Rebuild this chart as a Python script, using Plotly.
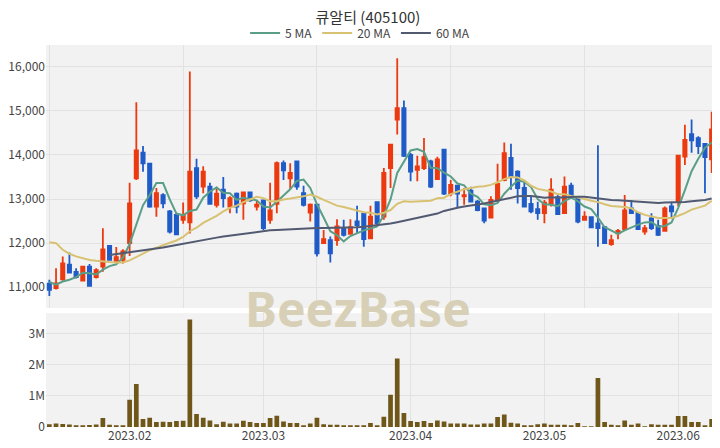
import pandas as pd
import plotly.graph_objects as go

# ---- data -------------------------------------------------------------
holidays = ["2023-01-23", "2023-01-24", "2023-03-01", "2023-05-01",
            "2023-05-05", "2023-05-29", "2023-06-06"]
dates = [d.strftime("%Y-%m-%d") for d in pd.bdate_range("2023-01-12", "2023-06-09")
         if d.strftime("%Y-%m-%d") not in holidays]

open_ = [11080, 10980, 11180, 11510, 11350, 11150, 11470, 11230, 11470, 11940,
         11600, 11620, 12000, 13470, 14050, 13800, 12830, 13090, 12720, 12640,
         12530, 12470, 13700, 13280, 13280, 12870, 13210, 12830, 13120, 12900,
         13150, 12830, 12970, 12530, 12890, 13810, 13470, 13850, 13130, 12690,
         12870, 12000, 12070, 12070, 12340, 12210, 12490, 12660, 12110, 12930,
         12600, 13700, 14800, 15060, 14000, 13660, 13700, 13850, 13450, 14120,
         13120, 13300, 13060, 13190, 12940, 12790, 12580, 12980, 13430, 13930,
         13620, 13250, 12890, 12770, 12680, 12900, 13040, 12680, 13300, 13000,
         12530, 12590, 12450, 12360, 11980, 12220, 12320, 12790, 12680, 12260,
         12560, 12390, 12280, 12830, 12940, 13960, 14470, 14380, 14250, 13900]
high = [11170, 11430, 11700, 11790, 11430, 11480, 11530, 11430, 12340, 11960,
        11910, 11860, 13370, 15190, 14200, 13820, 13250, 13130, 12750, 12680,
        12920, 15890, 13910, 13740, 13370, 13280, 13500, 13060, 13150, 13170,
        13170, 12980, 12980, 13370, 13850, 13870, 13810, 13850, 13300, 12900,
        12890, 12300, 12150, 12540, 12530, 12540, 12850, 12680, 12850, 12950,
        13700, 14250, 16190, 15230, 14040, 13980, 14380, 13890, 13960, 14120,
        13430, 13300, 13250, 13280, 12980, 12810, 13060, 13800, 14280, 14250,
        13650, 13400, 13060, 12940, 12980, 13470, 13120, 13510, 13370, 13020,
        12720, 12600, 14220, 12390, 12190, 12320, 13090, 12980, 12690, 12410,
        12680, 12530, 12830, 12940, 14000, 14680, 14800, 14420, 14270, 14980]
low = [10800, 10950, 11150, 11320, 11200, 11130, 11010, 11200, 11350, 11600,
       11560, 11540, 11710, 13430, 13620, 12800, 12600, 12790, 12220, 12180,
       12440, 12220, 13000, 13130, 12870, 12810, 12810, 12680, 12680, 12530,
       12940, 12740, 12300, 12440, 12680, 13430, 13210, 13210, 12830, 12490,
       11700, 11980, 11560, 11940, 12150, 12190, 12230, 11920, 12090, 12410,
       12530, 13250, 14460, 13950, 13400, 13400, 13660, 13250, 13430, 13090,
       13060, 12790, 12870, 12920, 12720, 12450, 12570, 12940, 13400, 13210,
       12900, 12810, 12680, 12530, 12450, 12830, 12640, 12660, 13020, 12450,
       12510, 12340, 11920, 11980, 11940, 12090, 12300, 12660, 12300, 12190,
       12300, 12160, 12260, 12560, 12830, 13770, 14050, 14020, 13130, 13590]
close = [10940, 11090, 11540, 11330, 11230, 11470, 11030, 11390, 11860, 11620,
         11680, 11810, 12900, 14100, 13810, 12830, 13130, 12900, 12260, 12200,
         12640, 13620, 13060, 13620, 12890, 13120, 13020, 13020, 12830, 13150,
         12970, 12870, 12340, 12740, 13810, 13650, 13590, 13280, 12870, 12870,
         11770, 12090, 11770, 12380, 12190, 12360, 12410, 12090, 12600, 12450,
         13590, 14230, 15060, 13980, 13620, 13740, 13950, 13280, 13900, 13120,
         13320, 13120, 13090, 12940, 12750, 12510, 12980, 13340, 14040, 13510,
         13250, 12830, 12720, 12680, 12920, 13210, 12660, 13280, 13090, 12490,
         12600, 12360, 12340, 12000, 12070, 12280, 12740, 12680, 12320, 12340,
         12340, 12190, 12790, 12720, 13980, 14340, 14330, 14200, 13950, 14580]
volume = [0.09, 0.11, 0.10, 0.08, 0.05, 0.05, 0.06, 0.08, 0.29, 0.07,
          0.05, 0.05, 0.87, 1.38, 0.26, 0.30, 0.16, 0.17, 0.16, 0.19,
          0.20, 3.45, 0.42, 0.30, 0.21, 0.09, 0.17, 0.11, 0.11, 0.20,
          0.16, 0.13, 0.13, 0.29, 0.36, 0.18, 0.13, 0.13, 0.04, 0.11,
          0.30, 0.09, 0.07, 0.07, 0.03, 0.03, 0.05, 0.05, 0.13, 0.05,
          0.33, 1.03, 2.20, 0.45, 0.19, 0.16, 0.19, 0.13, 0.21, 0.18,
          0.11, 0.11, 0.11, 0.08, 0.08, 0.11, 0.11, 0.32, 0.40, 0.14,
          0.11, 0.03, 0.03, 0.09, 0.11, 0.07, 0.07, 0.07, 0.03, 0.13,
          0.02, 0.02, 1.57, 0.16, 0.07, 0.04, 0.21, 0.07, 0.11, 0.02,
          0.09, 0.07, 0.07, 0.07, 0.35, 0.35, 0.16, 0.16, 0.04, 0.26]
volume = [v * 1_000_000 for v in volume]

ma5 = [11120, 11060, 11130, 11170, 11230, 11330, 11320, 11290, 11400, 11480,
       11520, 11670, 11980, 12420, 12860, 13090, 13360, 13360, 12990, 12670,
       12630, 12730, 12760, 13030, 13170, 13260, 13140, 13130, 12980, 13030,
       13000, 12970, 12830, 12810, 12940, 13080, 13220, 13410, 13440, 13250,
       12880, 12580, 12270, 12180, 12040, 12160, 12220, 12290, 12330, 12380,
       12630, 12990, 13590, 13860, 14100, 14130, 14070, 13710, 13700, 13600,
       13510, 13350, 13310, 13120, 13050, 12880, 12860, 12910, 13120, 13280,
       13420, 13390, 13270, 13000, 12880, 12870, 12840, 12950, 13030, 12950,
       12830, 12770, 12580, 12360, 12280, 12210, 12290, 12360, 12420, 12470,
       12480, 12370, 12390, 12470, 12800, 13200, 13630, 13910, 14160, 14280]
ma20 = [12020, 12000, 11850, 11760, 11700, 11660, 11620, 11600, 11580, 11570,
        11560, 11560, 11610, 11680, 11760, 11840, 11900, 11960, 12010, 12060,
        12140, 12270, 12350, 12460, 12540, 12620, 12720, 12800, 12850, 12930,
        12990, 13050, 13020, 12950, 12950, 12990, 13010, 13030, 13060, 13100,
        13050, 12980, 12910, 12850, 12820, 12780, 12750, 12700, 12690, 12650,
        12690, 12750, 12890, 12950, 12940, 12950, 12960, 12960, 13020, 13030,
        13110, 13160, 13220, 13250, 13280, 13290, 13320, 13380, 13450, 13500,
        13490, 13420, 13300, 13230, 13200, 13170, 13110, 13110, 13070, 13040,
        13000, 12960, 12930, 12880, 12840, 12830, 12820, 12790, 12700, 12640,
        12600, 12570, 12570, 12570, 12620, 12680, 12760, 12810, 12850, 12960]
ma60 = [None, None, None, None, None, None, None, None, None, 11730,
        11750, 11770, 11790, 11810, 11830, 11850, 11870, 11900, 11930, 11960,
        11985, 12010, 12040, 12070, 12100, 12125, 12150, 12170, 12195, 12220,
        12245, 12265, 12285, 12290, 12300, 12310, 12320, 12330, 12340, 12345,
        12345, 12345, 12345, 12350, 12350, 12355, 12360, 12370, 12385, 12400,
        12420, 12445, 12475, 12505, 12535, 12565, 12600, 12635, 12670, 12730,
        12770, 12800, 12830, 12850, 12880, 12900, 12930, 12960, 13000, 13030,
        13060, 13070, 13070, 13050, 13030, 13040, 13030, 13040, 13050, 13050,
        13050, 13030, 13020, 12990, 12980, 12970, 12960, 12960, 12950, 12930,
        12920, 12910, 12920, 12920, 12920, 12930, 12950, 12960, 12980, 13010]

price_ticks = [11000, 12000, 13000, 14000, 15000, 16000]
vol_ticks = [0, 1_000_000, 2_000_000, 3_000_000]
vol_tick_text = ["0", "1M", "2M", "3M"]
month_ticks = ["2023-02-01", "2023-03-02", "2023-04-03", "2023-05-02", "2023-06-01"]
month_text = ["2023.02", "2023.03", "2023.04", "2023.05", "2023.06"]

# ---- figure -----------------------------------------------------------
FONT = "Noto Sans CJK KR, Noto Sans, sans-serif"
GRID = "#e2e2e2"
W, H = 720, 448

fig = go.Figure()
fig.add_trace(go.Candlestick(
    x=dates, open=open_, high=high, low=low, close=close,
    increasing=dict(line=dict(color="#ec3a10", width=1.8), fillcolor="#ec3a10"),
    decreasing=dict(line=dict(color="#1f5cc8", width=1.8), fillcolor="#1f5cc8"),
    whiskerwidth=0, showlegend=False, xaxis="x", yaxis="y", name="price"))
fig.add_trace(go.Scatter(x=dates, y=ma5, mode="lines", name="5 MA",
                         line=dict(color="#5a9e88", width=2), xaxis="x", yaxis="y"))
fig.add_trace(go.Scatter(x=dates, y=ma20, mode="lines", name="20 MA",
                         line=dict(color="#d8c272", width=2), xaxis="x", yaxis="y"))
fig.add_trace(go.Scatter(x=dates, y=ma60, mode="lines", name="60 MA",
                         line=dict(color="#525a72", width=2), xaxis="x", yaxis="y"))
fig.add_trace(go.Bar(x=dates, y=volume, marker=dict(color="#6f5619", line=dict(width=0)),
                     width=0.7, showlegend=False, xaxis="x2", yaxis="y2", name="volume"))

fig.update_layout(
    width=W, height=H,
    margin=dict(l=38, r=13, t=37, b=29, autoexpand=False),
    paper_bgcolor="white", plot_bgcolor="#f2f2f2",
    font=dict(family=FONT, size=12, color="#444"),
    title=dict(text="큐알티 (405100)", x=0.5, xanchor="center", xref="container",
               y=1 - 10 / H, yanchor="middle", yref="container",
               font=dict(family=FONT, size=15, color="#333")),
    legend=dict(orientation="h", x=0.489, xanchor="center", xref="container",
                y=1 - 25 / H, yanchor="middle", yref="container",
                font=dict(size=12, color="#444"), bgcolor="rgba(0,0,0,0)"),
    xaxis=dict(domain=[0, 1], anchor="y", type="category", range=[-0.5, 99.5],
               tickvals=[dates[i] for i in (0, 20, 40, 60, 80)], showticklabels=False,
               showgrid=True, gridcolor=GRID, zeroline=False, ticks="", automargin=False,
               rangeslider=dict(visible=False)),
    yaxis=dict(domain=[0.3115, 1], range=[10530, 16490], tickvals=price_ticks,
               tickformat=",", showgrid=True, gridcolor=GRID, zeroline=False,
               ticks="", automargin=False, tickfont=dict(size=12, color="#444")),
    xaxis2=dict(domain=[0, 1], anchor="y2", type="category", range=[-0.5, 99.5],
                tickvals=month_ticks, ticktext=month_text, showgrid=True, gridcolor=GRID,
                zeroline=False, ticks="", automargin=False,
                tickfont=dict(size=12, color="#444")),
    yaxis2=dict(domain=[0, 0.298], range=[0, 3.65e6], tickvals=vol_ticks,
                ticktext=vol_tick_text, showgrid=True, gridcolor=GRID, zeroline=False,
                ticks="", automargin=False, tickfont=dict(size=12, color="#444")),
)

fig.add_annotation(text="<b>BeezBase</b>", xref="paper", yref="paper", x=0.466, y=0.309,
                   xanchor="center", yanchor="middle", showarrow=False,
                   font=dict(family="Noto Sans, sans-serif", size=48, color="#d8d0b6"))

fig.write_html("out.html")
